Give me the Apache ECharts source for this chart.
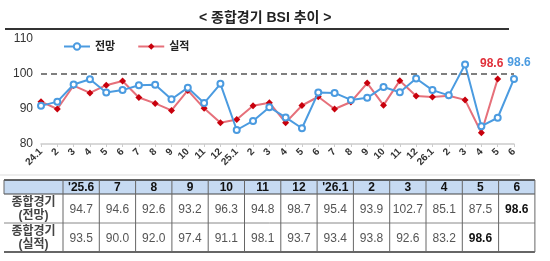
<!DOCTYPE html>
<html>
<head>
<meta charset="utf-8">
<script src="https://cdn.jsdelivr.net/npm/echarts@6/dist/echarts.min.js"></script>
<style>
  html, body { margin: 0; padding: 0; background: #fff; }
  #chart { width: 550px; height: 261px; }
</style>
</head>
<body>
<div id="chart"></div>
<script>
// 월 (24.1 ~ 26.6)
var months = ['24.1','24.2','24.3','24.4','24.5','24.6','24.7','24.8','24.9','24.10','24.11','24.12',
              '25.1','25.2','25.3','25.4','25.5','25.6','25.7','25.8','25.9','25.10','25.11','25.12',
              '26.1','26.2','26.3','26.4','26.5','26.6'];
var tickLabels = ['24.1','2','3','4','5','6','7','8','9','10','11','12',
                  '25.1','2','3','4','5','6','7','8','9','10','11','12',
                  '26.1','2','3','4','5','6'];
var outlook = [90.9, 92.1, 97.0, 98.5, 94.7, 95.4, 96.8, 96.9, 92.8, 96.1, 91.7, 97.2,
               84.0, 86.6, 90.5, 87.6, 84.5, 94.7, 94.6, 92.6, 93.2, 96.3, 94.8, 98.7,
               95.4, 93.9, 102.7, 85.1, 87.5, 98.6];
var actual = [92.1, 90.0, 96.7, 94.6, 96.8, 98.0, 93.3, 91.6, 89.6, 95.3, 90.2, 86.1,
              87.0, 90.9, 91.8, 86.1, 91.0, 93.5, 90.0, 92.0, 97.4, 91.1, 98.1, 93.7,
              93.4, 93.8, 92.6, 83.2, 98.6];

// 표
var tableHeads = ["'25.6", '7', '8', '9', '10', '11', '12', "'26.1", '2', '3', '4', '5', '6'];
var tableRowNames = ['종합경기\n(전망)', '종합경기\n(실적)'];
var tableOutlook = ['94.7','94.6','92.6','93.2','96.3','94.8','98.7','95.4','93.9','102.7','85.1','87.5','98.6'];
var tableActual = ['93.5','90.0','92.0','97.4','91.1','98.1','93.7','93.4','93.8','92.6','83.2','98.6',''];

var BLUE = '#4b9be0';
var FONT = '"Liberation Sans", "Noto Sans CJK KR", sans-serif';

var chart = echarts.init(document.getElementById('chart'));

function lastLabel(arr, color, offset) {
    return arr.map(function (v, i) {
        if (i !== arr.length - 1) return v;
        return {
            value: v,
            label: {
                show: true, position: 'top', offset: offset,
                color: color, fontSize: 12, fontWeight: 'bold', fontFamily: FONT
            }
        };
    });
}

// 표 그리기
function buildTable() {
    var left = 4, labelW = 59, colW = 36.3, top = 180, headH = 14, rowH = 29;
    var right = left + labelW + colW * tableHeads.length;
    var g = [];
    g.push({ type: 'rect', shape: { x: left, y: top, width: right - left, height: headH },
             style: { fill: '#c6daf2' } });
    var rowsY = [top, top + headH, top + headH + rowH, top + headH + rowH * 2];
    [[rowsY[0], 1.5, '#333'], [rowsY[1], 1.2, '#444'], [rowsY[2], 1, '#888'], [rowsY[3], 1.5, '#333']]
        .forEach(function (r) {
            g.push({ type: 'line', shape: { x1: left, y1: r[0], x2: right, y2: r[0] },
                     style: { stroke: r[2], lineWidth: r[1] } });
        });
    for (var c = 0; c <= tableHeads.length; c++) {
        var x = left + labelW + colW * c;
        g.push({ type: 'line', shape: { x1: x, y1: top, x2: x, y2: rowsY[3] },
                 style: { stroke: '#666', lineWidth: 1 } });
    }
    g.push({ type: 'line', shape: { x1: left, y1: top, x2: left, y2: top + headH },
             style: { stroke: '#666', lineWidth: 1 } });
    tableHeads.forEach(function (h, i) {
        g.push({ type: 'text', x: left + labelW + colW * (i + 0.5), y: top + headH / 2 + 1,
                 style: { text: h, fill: '#111', font: 'bold 12px ' + FONT, align: 'center', verticalAlign: 'middle' } });
    });
    tableRowNames.forEach(function (n, r) {
        g.push({ type: 'text', x: left + labelW / 2, y: rowsY[r + 1] + rowH / 2 + 1,
                 style: { text: n, fill: '#444', font: 'bold 12px ' + FONT, align: 'center',
                          verticalAlign: 'middle', lineHeight: 13 } });
    });
    [tableOutlook, tableActual].forEach(function (row, r) {
        row.forEach(function (v, i) {
            var strong = v === '98.6';
            g.push({ type: 'text', x: left + labelW + colW * (i + 0.5), y: rowsY[r + 1] + rowH / 2 + 1,
                     style: { text: v, fill: strong ? '#111' : '#555',
                              font: (strong ? 'bold ' : '') + '12px ' + FONT,
                              align: 'center', verticalAlign: 'middle' } });
        });
    });
    return g;
}

var option = {
    backgroundColor: '#fff',
    animation: false,
    title: {
        text: '< 종합경기 BSI 추이 >',
        left: 194, top: 6,
        textStyle: { fontSize: 14, fontWeight: 'bold', color: '#222', fontFamily: FONT }
    },
    legend: {
        left: 58, top: 36, itemWidth: 26, itemHeight: 8, itemGap: 22,
        textStyle: { fontSize: 11, fontWeight: 'bold', color: '#222', fontFamily: FONT },
        data: ['전망', '실적']
    },
    grid: { left: 41, right: 36, top: 39, bottom: 117, containLabel: false },
    xAxis: {
        type: 'category',
        data: months,
        boundaryGap: false,
        axisLine: { lineStyle: { color: '#ccc', width: 1.5 } },
        axisTick: { show: true, length: 3, lineStyle: { color: '#ccc' } },
        axisLabel: {
            interval: 0, rotate: 45, fontSize: 10, fontWeight: 'bold', color: '#333',
            fontFamily: FONT, margin: 6,
            formatter: function (v, i) { return tickLabels[i]; }
        }
    },
    yAxis: {
        type: 'value', min: 80, max: 110, interval: 10,
        axisLine: { show: false }, axisTick: { show: false },
        splitLine: { show: false },
        axisLabel: { fontSize: 12, color: '#333', fontFamily: FONT, margin: 8 }
    },
    series: [
        {
            name: '전망', type: 'line',
            data: lastLabel(outlook, BLUE, [5, -1]),
            symbol: 'emptyCircle', symbolSize: 6,
            lineStyle: { color: BLUE, width: 2 },
            itemStyle: { color: BLUE, borderColor: BLUE, borderWidth: 1.2 },
            z: 3,
            markLine: {
                silent: true, symbol: 'none',
                label: { show: false },
                lineStyle: { color: '#555', type: [6, 4], width: 1.5 },
                data: [{ yAxis: 100 }]
            }
        },
        {
            name: '실적', type: 'line',
            data: lastLabel(actual, '#e0303a', [-6, -1]),
            symbol: 'diamond', symbolSize: 7,
            lineStyle: { color: '#e6707a', width: 2 },
            itemStyle: { color: '#c8000c' },
            z: 2
        }
    ],
    graphic: [
        { type: 'line', shape: { x1: 5, y1: 29, x2: 509, y2: 29 },
          style: { stroke: '#333', lineWidth: 2 } },
        { type: 'line', shape: { x1: 0, y1: 175, x2: 520, y2: 175 },
          style: { stroke: '#ddd', lineWidth: 1 } },
        { type: 'group', children: buildTable() }
    ]
};
chart.setOption(option);
</script>
</body>
</html>
